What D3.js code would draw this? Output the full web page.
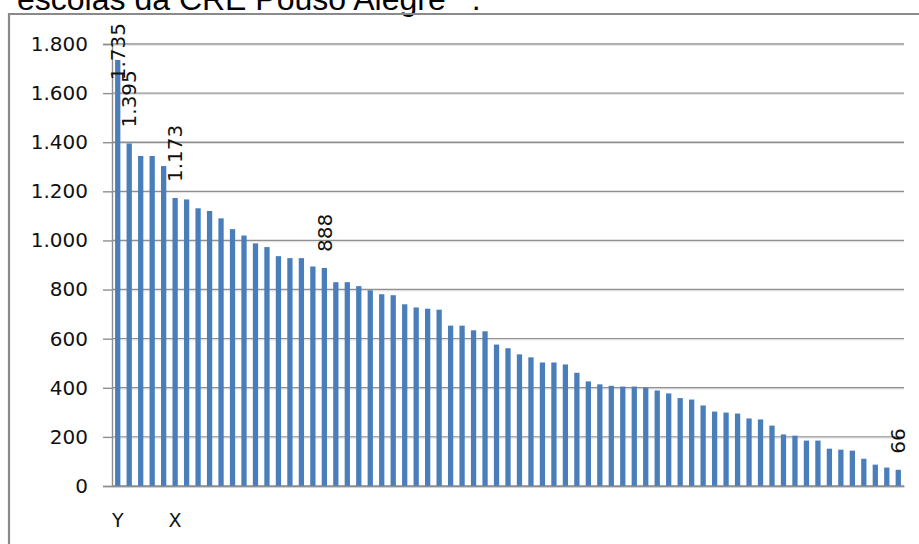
<!DOCTYPE html>
<html><head><meta charset="utf-8">
<script src="https://cdn.jsdelivr.net/npm/d3@7"></script>
<style>html,body{margin:0;padding:0;background:#fff;overflow:hidden}</style>
</head><body>
<svg id="c" width="919" height="544"></svg>
<script>
const values = [1735,1395,1344,1344,1303,1173,1167,1131,1120,1090,1046,1020,988,973,936,928,928,894,888,830,830,814,797,781,777,740,727,722,718,653,653,634,630,576,561,536,524,503,503,495,461,426,414,408,405,405,400,389,377,358,352,328,303,299,295,275,271,246,210,205,185,185,152,148,144,111,87,75,66];
const categoryLabels = values.map((v,i)=> i===0 ? "Y" : (i===5 ? "X" : ""));
const labeledBars = [0,1,5,18,68];
const yTicks = [0,200,400,600,800,1000,1200,1400,1600,1800];
const titleText = "escolas da CRE Pouso Alegre";

const loc = d3.formatLocale({decimal:",", thousands:".", grouping:[3], currency:["R$",""]});
const fmt = loc.format(",d");

const svg = d3.select("#c");
const FONT = "DejaVu Sans";

// title (clipped at top, as in the reference)
const t = svg.append("text").attr("x",17).attr("y",10)
  .attr("font-family","Liberation Sans").attr("font-size",32).attr("fill","#000");
t.append("tspan").text(titleText);
t.append("tspan").attr("font-size",18).attr("dy",-15).attr("dx",12).text("4");
t.append("tspan").attr("dy",15).attr("dx",4).text(".");

// frame
svg.append("line").attr("x1",9).attr("x2",919).attr("y1",14).attr("y2",14).attr("stroke","#8a8a8a").attr("stroke-width",2.2);
svg.append("line").attr("x1",9).attr("x2",9).attr("y1",13).attr("y2",544).attr("stroke","#8a8a8a").attr("stroke-width",2.2);

const x = d3.scaleBand().domain(d3.range(values.length)).range([112,904]).paddingInner(0.54).paddingOuter(0.27);
const y = d3.scaleLinear().domain([0,1800]).range([486,44]);

// gridlines
svg.append("g").selectAll("line").data(yTicks).join("line")
  .attr("x1",112).attr("x2",904).attr("y1",d=>y(d)).attr("y2",d=>y(d))
  .attr("stroke","#8f8f8f").attr("stroke-width",1.4);
svg.append("g").selectAll("line").data(yTicks).join("line")
  .attr("x1",112).attr("x2",904).attr("y1",d=>y(d)+1.3).attr("y2",d=>y(d)+1.3)
  .attr("stroke","#e2e2e2").attr("stroke-width",1);

// y axis
const yAxis = d3.axisLeft(y).tickValues(yTicks).tickSize(9).tickPadding(15).tickFormat(fmt);
const ga = svg.append("g").attr("transform","translate(112,0)").call(yAxis);
ga.select(".domain").attr("stroke","#8f8f8f").attr("stroke-width",1.4);
ga.selectAll(".tick line").attr("stroke","#8f8f8f").attr("stroke-width",1.4);
ga.selectAll("text").attr("font-family",FONT).attr("font-size",20).attr("fill","#111");

// bars
svg.append("g").selectAll("rect").data(values).join("rect")
  .attr("x",(d,i)=>x(i)).attr("width",x.bandwidth())
  .attr("y",d=>y(d)).attr("height",d=>y(0)-y(d))
  .attr("fill","#4a7ebb");

// x axis
const xAxis = d3.axisBottom(x).tickSize(0).tickPadding(28).tickFormat(i=>categoryLabels[i]);
const gx = svg.append("g").attr("transform","translate(0,486)").call(xAxis);
gx.select(".domain").attr("stroke","#8f8f8f").attr("stroke-width",1.4);
gx.selectAll("text").attr("font-family",FONT).attr("font-size",19).attr("fill","#111");

// data labels
const lbl = svg.append("g");
labeledBars.forEach(i=>{
  const cx = x(i)+x.bandwidth()/2;
  const txt = lbl.append("text").attr("font-family",FONT).attr("font-size",20).attr("fill","#111")
    .attr("dy","0.36em").text(fmt(values[i]));
  const len = txt.node().getComputedTextLength();
  const start = Math.max(y(values[i]) - 16, 23 + len);
  txt.attr("transform",`translate(${cx},${start}) rotate(-90)`);
});
</script>
</body></html>
